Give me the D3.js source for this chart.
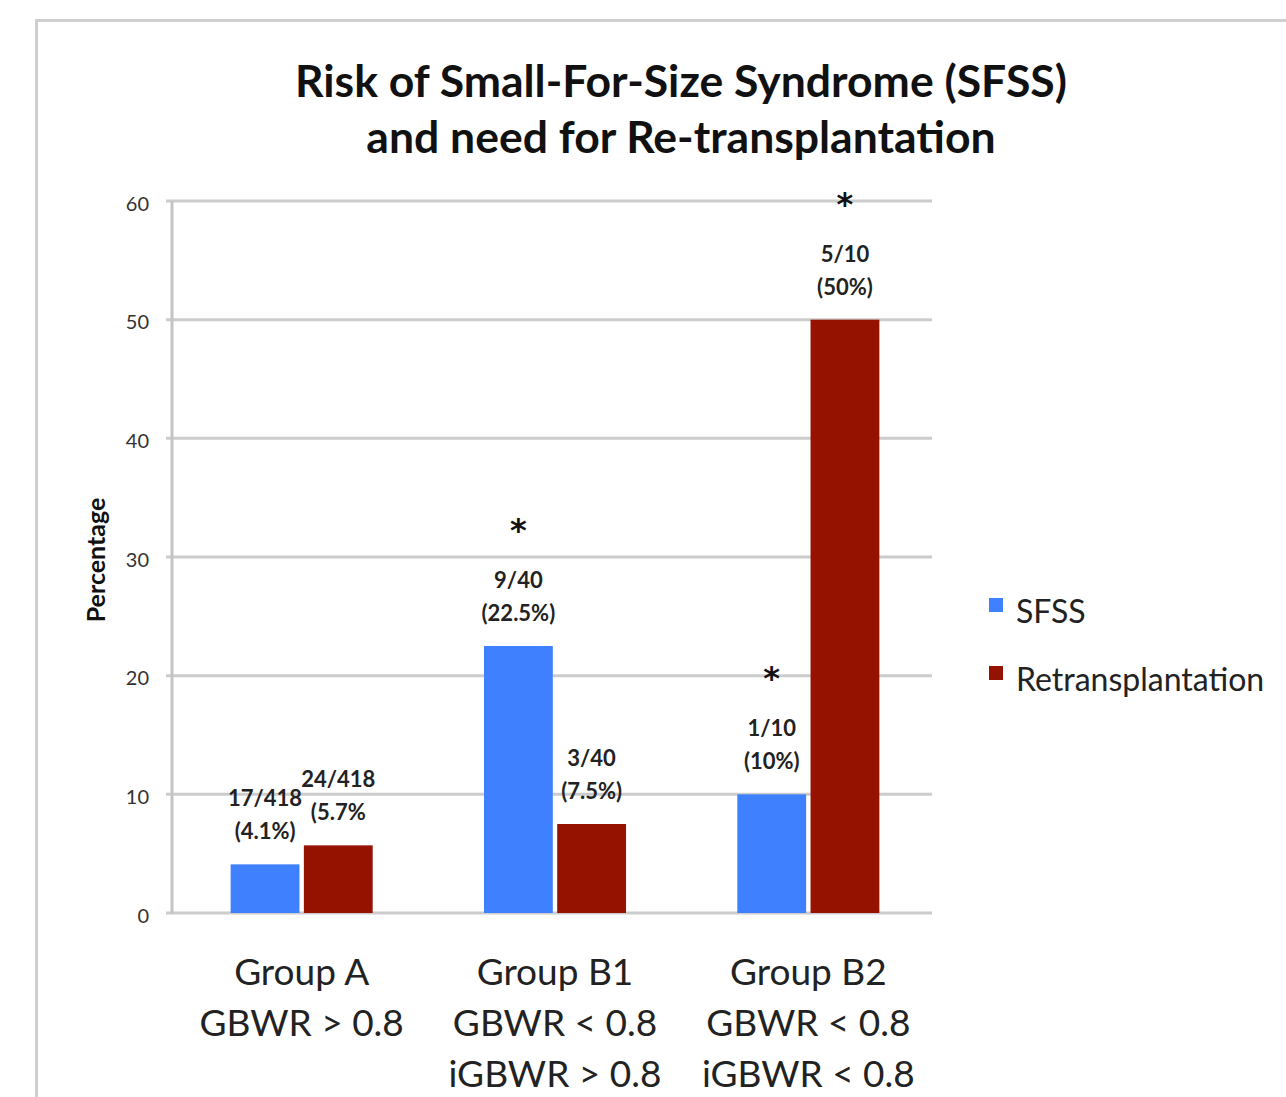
<!DOCTYPE html>
<html>
<head>
<meta charset="utf-8">
<script src="https://cdn.jsdelivr.net/npm/d3@7"></script>
<style>
  html, body { margin: 0; padding: 0; background: #fff; }
  svg { display: block; }
</style>
</head>
<body>
<svg id="chart" width="1286" height="1097"></svg>
<script>
const titleLines = ["Risk of Small-For-Size Syndrome (SFSS)", "and need for Re-transplantation"];
const categories = ["Group A", "Group B1", "Group B2"];
const categoryLines = [["Group A", "GBWR > 0.8"], ["Group B1", "GBWR < 0.8", "iGBWR > 0.8"], ["Group B2", "GBWR < 0.8", "iGBWR < 0.8"]];
const seriesNames = ["SFSS", "Retransplantation"];
const sfss = [4.1, 22.5, 10];
const retrans = [5.7, 7.5, 50];
const sfssLabels = [["17/418", "(4.1%)"], ["9/40", "(22.5%)"], ["1/10", "(10%)"]];
const retransLabels = [["24/418", "(5.7%"], ["3/40", "(7.5%)"], ["5/10", "(50%)"]];
const sfssStar = [false, true, true];
const retransStar = [false, false, true];
const yTicks = [0, 10, 20, 30, 40, 50, 60];
const colors = ["#3f80fe", "#961200"];

const svg = d3.select("#chart");
const font = "Lato, 'Open Sans', sans-serif";

// outer frame
svg.append("rect").attr("x", 36.5).attr("y", 20.5).attr("width", 1300).attr("height", 1100)
  .attr("fill", "#fff").attr("stroke", "#cfcfcf").attr("stroke-width", 3);

// title
svg.append("text").attr("font-family", font).attr("font-weight", "bold")
  .attr("font-size", 44.5).attr("text-anchor", "middle").attr("fill", "#111")
  .selectAll("tspan").data(titleLines).join("tspan")
  .attr("x", 681).attr("y", (d, i) => 97 + i * 56).text(d => d);

const x0 = d3.scaleBand().domain(categories).range([175, 935]).paddingInner(0).paddingOuter(0);
const x1 = d3.scaleBand().domain(seriesNames).range([0, x0.bandwidth()]).paddingInner(0.06).paddingOuter(0.76);
const y = d3.scaleLinear().domain([0, 60]).range([913, 201]);

// gridlines
svg.append("g").selectAll("line").data(yTicks).join("line")
  .attr("x1", 166).attr("x2", 932).attr("y1", d => y(d)).attr("y2", d => y(d))
  .attr("stroke", "#cccccc").attr("stroke-width", 3);
// y axis line
svg.append("line").attr("x1", 172).attr("x2", 172).attr("y1", y(60)).attr("y2", y(0))
  .attr("stroke", "#c4c4c4").attr("stroke-width", 3);

// y axis labels via axis
const yAxis = d3.axisLeft(y).tickValues(yTicks).tickSize(0).tickPadding(0);
const ya = svg.append("g").attr("transform", "translate(149,0)").call(yAxis);
ya.select(".domain").remove();
ya.selectAll("text").attr("font-family", font).attr("font-size", 20).attr("fill", "#333").attr("dy", "0.45em");

// y title
svg.append("text").attr("transform", "translate(105,560) rotate(-90)")
  .attr("text-anchor", "middle").attr("font-family", font).attr("font-weight", "bold")
  .attr("font-size", 25).attr("fill", "#111").text("Percentage");

// bars
const data = categories.map((c, i) => ({ c, vals: [
  { s: seriesNames[0], v: sfss[i], lab: sfssLabels[i], star: sfssStar[i] },
  { s: seriesNames[1], v: retrans[i], lab: retransLabels[i], star: retransStar[i] }
]}));

const groups = svg.append("g").selectAll("g").data(data).join("g")
  .attr("transform", d => `translate(${x0(d.c)},0)`);

groups.selectAll("rect").data(d => d.vals).join("rect")
  .attr("x", d => x1(d.s)).attr("width", x1.bandwidth())
  .attr("y", d => y(d.v)).attr("height", d => y(0) - y(d.v))
  .attr("fill", (d, i) => colors[i]);

// value labels
groups.selectAll("text.lab").data(d => d.vals).join("text").attr("class", "lab")
  .attr("font-family", font).attr("font-weight", "bold").attr("font-size", 22)
  .attr("text-anchor", "middle").attr("fill", "#222")
  .each(function(d) {
    const t = d3.select(this);
    const cx = x1(d.s) + x1.bandwidth() / 2;
    t.selectAll("tspan").data(d.lab).join("tspan")
      .attr("x", cx).attr("y", (l, i) => y(d.v) - 58 + i * 33).text(l => l);
  });

// stars
groups.selectAll("text.star").data(d => d.vals.filter(v => v.star)).join("text").attr("class", "star")
  .attr("x", d => x1(d.s) + x1.bandwidth() / 2)
  .attr("y", d => y(d.v) - 105)
  .attr("text-anchor", "middle").attr("font-family", "'DejaVu Sans', sans-serif").attr("font-weight", "bold")
  .attr("font-size", 32).attr("fill", "#111").text("*");

// x labels
svg.append("g").selectAll("text").data(categories).join("text")
  .attr("font-family", font).attr("font-size", 37).attr("fill", "#222").attr("text-anchor", "middle")
  .each(function(c, i) {
    const cx = x0(c) + x0.bandwidth() / 2;
    d3.select(this).selectAll("tspan").data(categoryLines[i]).join("tspan")
      .attr("x", cx).attr("y", (l, j) => 985 + j * 51).text(l => l);
  });

// legend
const leg = svg.append("g").selectAll("g").data(seriesNames).join("g")
  .attr("transform", (d, i) => `translate(989,${598 + i * 68})`);
leg.append("rect").attr("width", 14).attr("height", 14).attr("fill", (d, i) => colors[i]);
leg.append("text").attr("x", 27).attr("y", 25).attr("font-family", font).attr("font-size", 32)
  .attr("fill", "#222").text(d => d);
</script>
</body>
</html>
